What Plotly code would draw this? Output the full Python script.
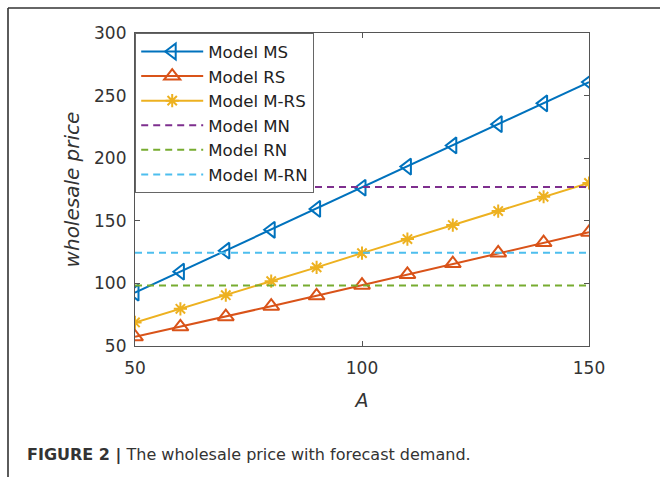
import plotly.graph_objects as go

# ---- data ----
A = [50, 60, 70, 80, 90, 100, 110, 120, 130, 140, 150]
model_ms = [92.6, 109.4, 126.1, 142.8, 159.5, 176.4, 193.3, 210.2, 227.2, 243.8, 260.8]
model_rs = [57.3, 65.3, 73.4, 81.8, 90.1, 98.6, 107.2, 115.8, 124.3, 132.6, 140.8]
model_mrs = [68.8, 79.7, 90.6, 101.8, 112.8, 124.2, 135.4, 146.6, 157.8, 169.2, 180.2]
model_mn = 177.0
model_rn = 98.4
model_mrn = 124.5

x_ticks = [50, 100, 150]
y_ticks = [50, 100, 150, 200, 250, 300]

W, H = 660, 477
L, R, T, B = 135, 589, 33, 346  # plot area in pixels
FONT = "DejaVu Sans, Liberation Sans, Arial, sans-serif"


def px_x(p):
    return (p - L) / (R - L)


def px_y(p):
    return (B - p) / (B - T)


fig = go.Figure()

fig.add_trace(go.Scatter(
    x=A, y=model_ms, name="Model MS", mode="lines+markers",
    line=dict(color="#0072BD", width=2),
    marker=dict(symbol="triangle-left-open", size=14, color="#0072BD", line=dict(width=2))))
fig.add_trace(go.Scatter(
    x=A, y=model_rs, name="Model RS", mode="lines+markers",
    line=dict(color="#D95319", width=2),
    marker=dict(symbol="triangle-up-open", size=14, color="#D95319", line=dict(width=2))))
fig.add_trace(go.Scatter(
    x=A, y=model_mrs, name="Model M-RS", mode="lines+markers",
    line=dict(color="#EDB120", width=2),
    marker=dict(symbol="asterisk-open", size=11, color="#EDB120", line=dict(width=2, color="#EDB120"))))

for name, val, col in [("Model MN", model_mn, "#7E2F8E"),
                       ("Model RN", model_rn, "#77AC30"),
                       ("Model M-RN", model_mrn, "#4DBEEE")]:
    fig.add_trace(go.Scatter(
        x=[A[0], A[-1]], y=[val, val], name=name, mode="lines",
        line=dict(color=col, width=2, dash="7px,5px")))

axis_common = dict(
    showline=True, linecolor="#555555", linewidth=1.2, mirror="ticks",
    ticks="inside", ticklen=5, tickwidth=1.2, tickcolor="#555555",
    showgrid=False, zeroline=False,
    tickfont=dict(family=FONT, size=17, color="#333333"),
)

fig.update_layout(
    width=W, height=H,
    margin=dict(l=L, r=W - R, t=T, b=H - B),
    paper_bgcolor="white", plot_bgcolor="white",
    showlegend=True,
    legend=dict(
        x=0, y=1, xanchor="left", yanchor="top",
        bgcolor="white", bordercolor="#666666", borderwidth=1.2,
        font=dict(family=FONT, size=16.6, color="#222222"),
        itemwidth=62, tracegroupgap=0,
    ),
    xaxis=dict(range=[50, 150], tickvals=x_ticks, ticklabelstandoff=6,
               title=dict(text="<i>A</i>", standoff=17,
                          font=dict(family=FONT, size=19, color="#333333")),
               **axis_common),
    yaxis=dict(range=[50, 300], tickvals=y_ticks, ticklabelstandoff=4,
               title=dict(text="<i>wholesale price</i>", standoff=9,
                          font=dict(family=FONT, size=20, color="#333333")),
               **axis_common),
    shapes=[
        dict(type="line", xref="paper", yref="paper",
             x0=px_x(8), x1=px_x(662), y0=px_y(8), y1=px_y(8),
             line=dict(color="#333333", width=1.6)),
        dict(type="line", xref="paper", yref="paper",
             x0=px_x(8), x1=px_x(8), y0=px_y(8), y1=px_y(480),
             line=dict(color="#333333", width=1.6)),
    ],
    annotations=[
        dict(xref="paper", yref="paper", x=px_x(25), y=px_y(455),
             xanchor="left", yanchor="middle", showarrow=False,
             text="<b>FIGURE 2 |</b> The wholesale price with forecast demand.",
             font=dict(family=FONT, size=16, color="#333333")),
    ],
)

fig.write_html("out.html", config={"displayModeBar": False},
               post_script="document.body.style.margin='0';")
